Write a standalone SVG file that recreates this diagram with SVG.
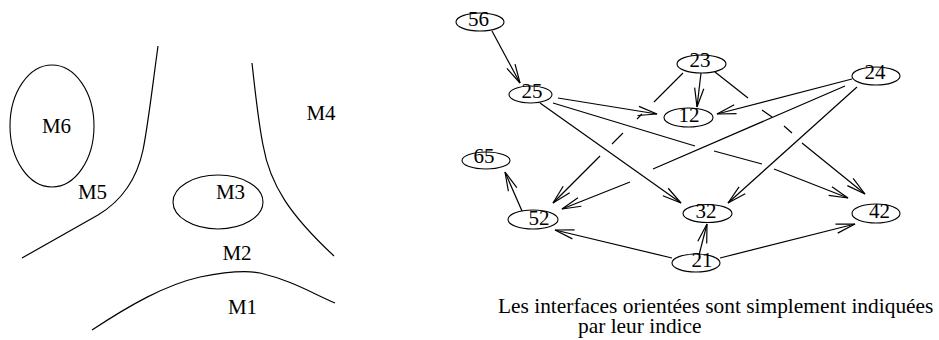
<svg xmlns="http://www.w3.org/2000/svg" width="939" height="340" viewBox="0 0 939 340">
<style>
  .t { font-family: "Liberation Serif", "Times New Roman", "DejaVu Serif", serif; font-size: 21px; fill: #000; }
  .c { font-size: 21.4px; }
  .m { text-anchor: middle; }
  .n { fill: none; stroke: #000; stroke-width: 1.1; }
  .e { fill: none; stroke: #000; stroke-width: 1.2; }
  .a { marker-end: url(#arr); }
</style>
<defs>
  <marker id="arr" markerUnits="userSpaceOnUse" markerWidth="24" markerHeight="14" refX="0" refY="0" viewBox="-20 -7 24 14" orient="auto" overflow="visible">
    <path d="M-19,-4.6 L0,0 L-19,4.6" fill="none" stroke="#000" stroke-width="1.2"/>
  </marker>
</defs>
<rect width="939" height="340" fill="#fff"/>

<g id="map">
  <path class="e" d="M158,46 C152,90 148,125 143,150 C136,183 118,203 98,215 L22,258"/>
  <path class="e" d="M252,63 C256,100 259,125 263,145 C270,185 290,215 334,256"/>
  <path class="e" d="M92,330 C130,305 165,285 200,277 C225,272 245,270 260,273 C290,280 310,292 335,303"/>
  <g id="M6"><ellipse class="n" cx="52" cy="126" rx="42" ry="61"/><text class="t m" x="56.5" y="133">M6</text></g>
  <g id="M3"><ellipse class="n" cx="218" cy="202" rx="45" ry="27"/><text class="t m" x="230.5" y="199">M3</text></g>
  <text class="t m" x="92.5" y="199">M5</text>
  <text class="t m" x="321" y="120">M4</text>
  <text class="t m" x="237" y="260">M2</text>
  <text class="t m" x="242.5" y="314">M1</text>
</g>

<g id="connectors">
  <path class="e a" d="M492,31 L520,83"/>
  <path class="e a" d="M558,98 L657,114"/>
  <path class="e a" d="M540,103 L681,203"/>
  <path class="e" d="M553,103 L695,146 M714,151 L762,164"/>
  <path class="e a" d="M774,169 L848,198"/>
  <path class="e" d="M683,73 L654,102 M642,114 L637,119 M623,133 L612,144"/>
  <path class="e a" d="M600,156 L553,203"/>
  <path class="e a" d="M701,73 L697,107"/>
  <path class="e" d="M715,72 L748,98 M762,110 L772,117 M784,126 L792,133"/>
  <path class="e a" d="M802,143 L865,194"/>
  <path class="e a" d="M852,79 L717,114"/>
  <path class="e a" d="M857,87 L728,203"/>
  <path class="e" d="M845,86 L653,169"/>
  <path class="e a" d="M630,182 L562,209"/>
  <path class="e a" d="M522,211 L505,172"/>
  <path class="e a" d="M672,258 L555,230"/>
  <path class="e a" d="M699,255 L707,224"/>
  <path class="e a" d="M720,258 L855,224"/>
</g>

<g id="n56"><ellipse class="n" cx="480" cy="22" rx="24" ry="9"/><text class="t m" x="478.5" y="26">56</text></g>
<g id="n25"><ellipse class="n" cx="530.5" cy="94.5" rx="21.5" ry="8.5"/><text class="t m" x="532" y="98">25</text></g>
<g id="n23"><ellipse class="n" cx="701.5" cy="64" rx="24.5" ry="9"/><text class="t m" x="700" y="67">23</text></g>
<g id="n12"><ellipse class="n" cx="688.5" cy="117.5" rx="24.5" ry="9.5"/><text class="t m" x="689" y="122">12</text></g>
<g id="n24"><ellipse class="n" cx="876" cy="76" rx="24" ry="9"/><text class="t m" x="875" y="79">24</text></g>
<g id="n65"><ellipse class="n" cx="486" cy="160.5" rx="24" ry="8.5"/><text class="t m" x="484" y="163">65</text></g>
<g id="n52"><ellipse class="n" cx="533" cy="219.5" rx="25" ry="9.5"/><text class="t m" x="539" y="225">52</text></g>
<g id="n32"><ellipse class="n" cx="707.5" cy="213.5" rx="24.5" ry="9"/><text class="t m" x="706" y="218">32</text></g>
<g id="n42"><ellipse class="n" cx="876" cy="213.5" rx="24" ry="9.5"/><text class="t m" x="879.5" y="218">42</text></g>
<g id="n21"><ellipse class="n" cx="696" cy="263" rx="24" ry="9"/><text class="t m" x="702" y="267">21</text></g>

<g id="caption">
  <text class="t c" x="498" y="313">Les interfaces orientées sont simplement indiquées</text>
  <text class="t c" x="578" y="333">par leur indice</text>
</g>
</svg>
